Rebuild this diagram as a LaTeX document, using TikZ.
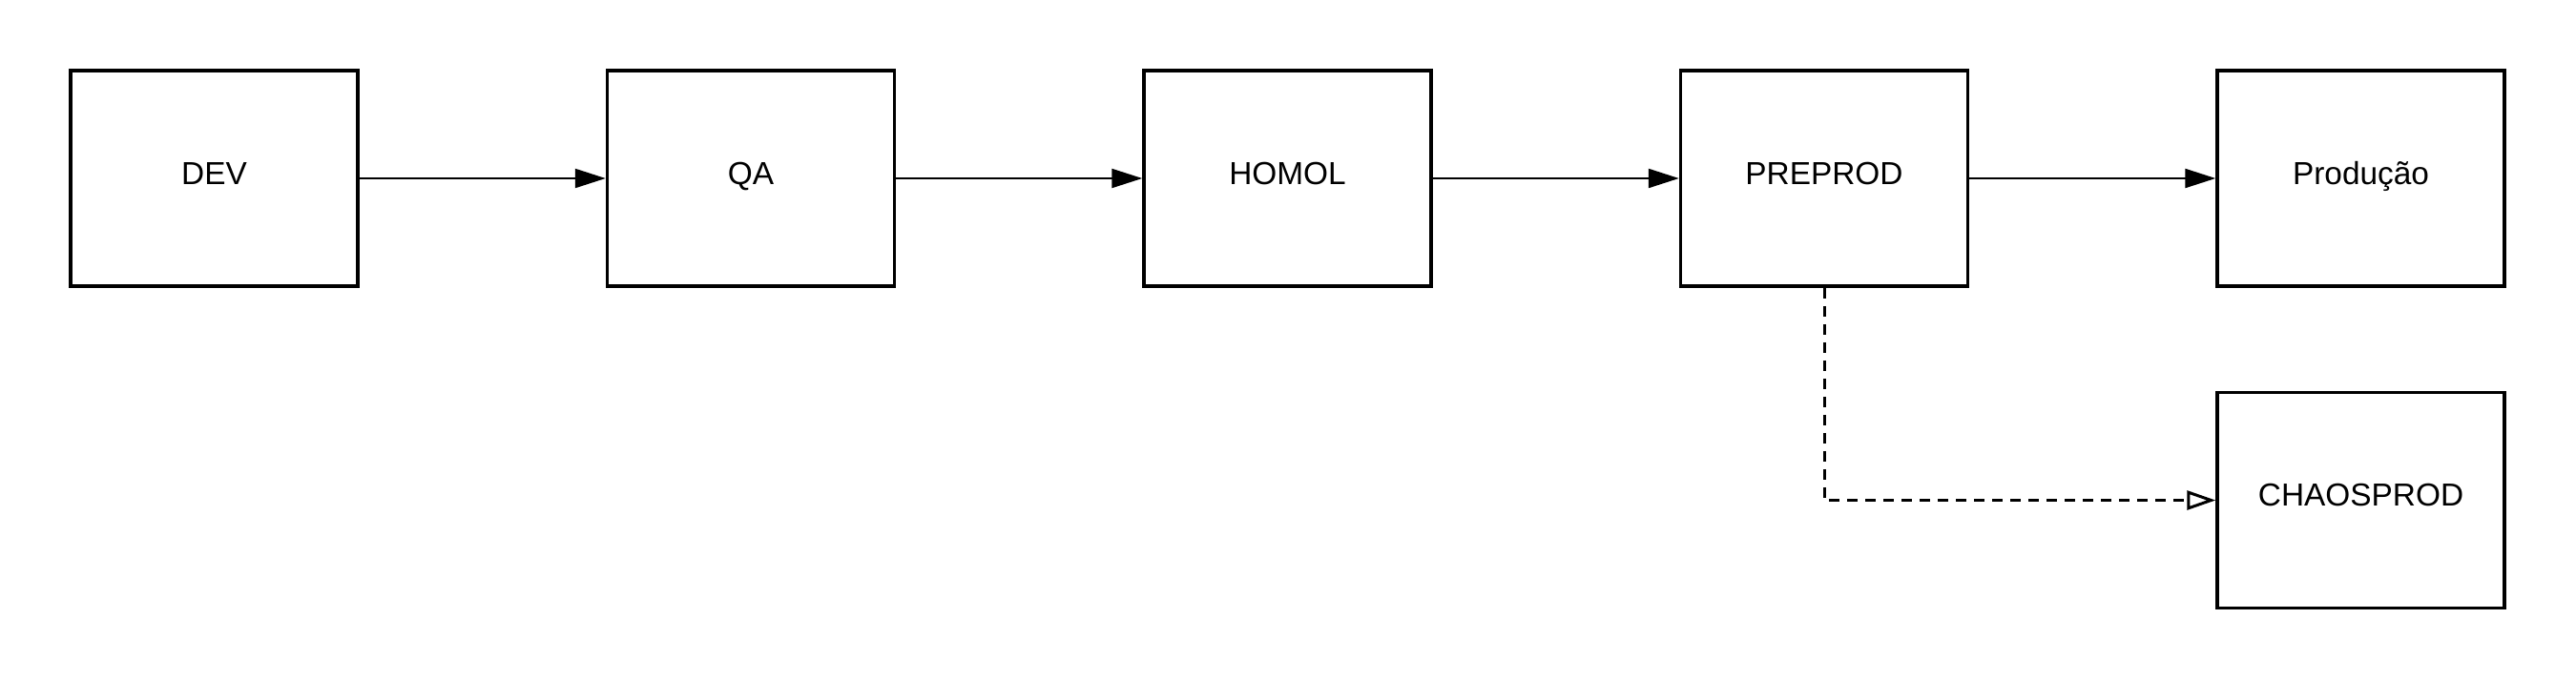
\documentclass[tikz,border=0pt]{standalone}
\usepackage{fontspec}
\setmainfont{Liberation Sans}
\usetikzlibrary{arrows.meta}
\begin{document}
\begin{tikzpicture}
	\pgfmathsetmacro{\stageDist}{5.625}
	\pgfmathsetmacro{\firstX}{2.245}
	\tikzstyle{stage}=[draw, line width=0.035cm, minimum width=3.01cm, minimum height=2.26cm, inner sep=0pt, text height=0.24cm, text depth=0.12cm, font=\fontsize{9.5}{11}\selectfont]
	\tikzstyle{flow}=[line width=0.022cm, -{Triangle[length=0.32cm, width=0.2cm]}]
	\tikzstyle{chaosflow}=[line width=0.03cm, dash pattern=on 0.11cm off 0.08cm, -{Triangle[open, length=0.3cm, width=0.2cm, line width=0.03cm]}]

	\useasboundingbox (0,0) rectangle (27,-7.13);

	\node[stage] (DEV) at (\firstX, -1.87)	{DEV};
	\node[stage] (QA) at (\firstX+\stageDist, -1.87)	{QA};
	\node[stage] (HOMOL) at (\firstX+2*\stageDist, -1.87)	{HOMOL};
	\node[stage] (PREPROD) at (\firstX+3*\stageDist, -1.87)	{PREPROD};
	\node[stage] (PROD) at (\firstX+4*\stageDist, -1.87)	{Produção};

	\node[stage] (CHAOSPROD) at (\firstX+4*\stageDist, -5.245)	{CHAOSPROD};

	\draw[flow] (DEV) -- (QA);
	\draw[flow] (QA) -- (HOMOL);
	\draw[flow] (HOMOL) -- (PREPROD);
	\draw[flow] (PREPROD) -- (PROD);

	\draw[chaosflow] (PREPROD) |- (CHAOSPROD);
\end{tikzpicture}
\end{document}
